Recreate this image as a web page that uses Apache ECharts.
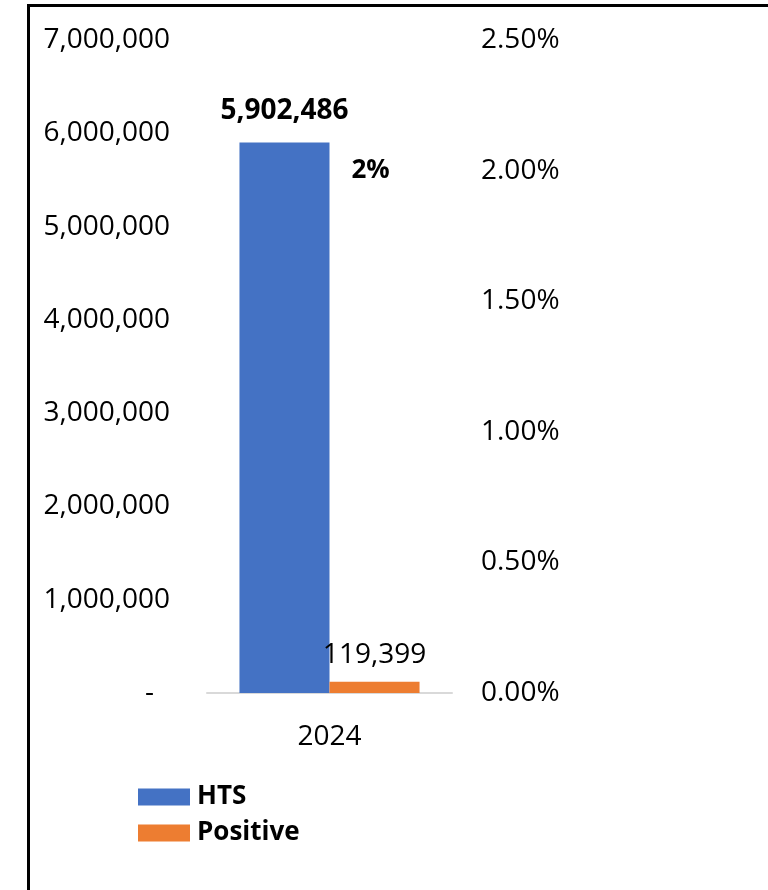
<!DOCTYPE html>
<html>
<head>
<meta charset="utf-8">
<script src="https://cdn.jsdelivr.net/npm/echarts@6/dist/echarts.min.js"></script>
<style>
  html, body { margin: 0; padding: 0; background: #fff; }
  #frame { position: absolute; left: 27px; top: 4px; width: 741px; height: 886px;
           border-left: 3px solid #000; border-top: 3px solid #000; }
  #chart { position: absolute; left: 0; top: 0; width: 768px; height: 890px; }
</style>
</head>
<body>
<div id="frame"></div>
<div id="chart"></div>
<script>
// data
const years = ['2024']
const htsValues = [5902486]
const positiveValues = [119399]
const positivityRate = [2.02]   // percent, on the right axis
const leftTicks = { min: 0, max: 7000000, interval: 1000000 }
const rightTicks = { min: 0, max: 2.5, interval: 0.5 }

const FONT = 'Open Sans'
let myChart = echarts.init(document.getElementById('chart'))

let options = {
    animation: false,
    textStyle: { fontFamily: FONT },
    grid: { left: 207, right: 316, top: 40, bottom: 197 },
    legend: {
        orient: 'vertical',
        left: 138,
        top: 784,
        padding: 0,
        itemWidth: 52,
        itemHeight: 17,
        itemGap: 10,
        icon: 'rect',
        data: ['HTS', 'Positive'],
        textStyle: { fontFamily: FONT, fontSize: 26, fontWeight: 'bold', color: '#000', padding: [0, 0, 0, 2] }
    },
    xAxis: {
        type: 'category',
        data: years,
        axisLine: { lineStyle: { color: '#d9d9d9', width: 2 } },
        axisTick: { show: false },
        axisLabel: { fontSize: 28, color: '#000', margin: 30, fontFamily: FONT }
    },
    yAxis: [
        {
            type: 'value',
            min: leftTicks.min, max: leftTicks.max, interval: leftTicks.interval,
            splitLine: { show: false },
            axisLine: { show: false },
            axisTick: { show: false },
            axisLabel: {
                fontSize: 28, color: '#000', margin: 37, fontFamily: FONT,
                formatter: v => v === 0 ? '{d|-}' : v.toLocaleString('en-US'),
                rich: { d: { fontSize: 28, color: '#000', fontFamily: FONT, padding: [0, 16, 0, 0] } }
            }
        },
        {
            type: 'value',
            min: rightTicks.min, max: rightTicks.max, interval: rightTicks.interval,
            splitLine: { show: false },
            axisLine: { show: false },
            axisTick: { show: false },
            axisLabel: {
                fontSize: 28, color: '#000', margin: 29, fontFamily: FONT,
                formatter: v => v.toFixed(2) + '%'
            }
        }
    ],
    series: [
        {
            name: 'HTS',
            type: 'bar',
            data: htsValues,
            barGap: '0%',
            barCategoryGap: '26.5%',
            itemStyle: { color: '#4472c4' },
            label: {
                show: true, position: 'top', distance: 17,
                fontSize: 28, fontWeight: 'bold', color: '#000', fontFamily: FONT,
                formatter: p => p.value.toLocaleString('en-US')
            }
        },
        {
            name: 'Positive',
            type: 'bar',
            data: positiveValues,
            itemStyle: { color: '#ed7d31' },
            label: {
                show: true, position: 'top', distance: 13,
                fontSize: 28, color: '#000', fontFamily: FONT,
                formatter: p => p.value.toLocaleString('en-US')
            }
        },
        {
            name: 'Rate',
            type: 'scatter',
            yAxisIndex: 1,
            data: positivityRate,
            symbolSize: 0,
            itemStyle: { color: '#000', opacity: 1 },
            label: {
                show: true, position: 'right', distance: 22, offset: [0, 5],
                fontSize: 26, fontWeight: 'bold', color: '#000', fontFamily: FONT,
                formatter: p => Math.round(p.value) + '%'
            }
        }
    ]
}
myChart.setOption(options)
</script>
</body>
</html>
